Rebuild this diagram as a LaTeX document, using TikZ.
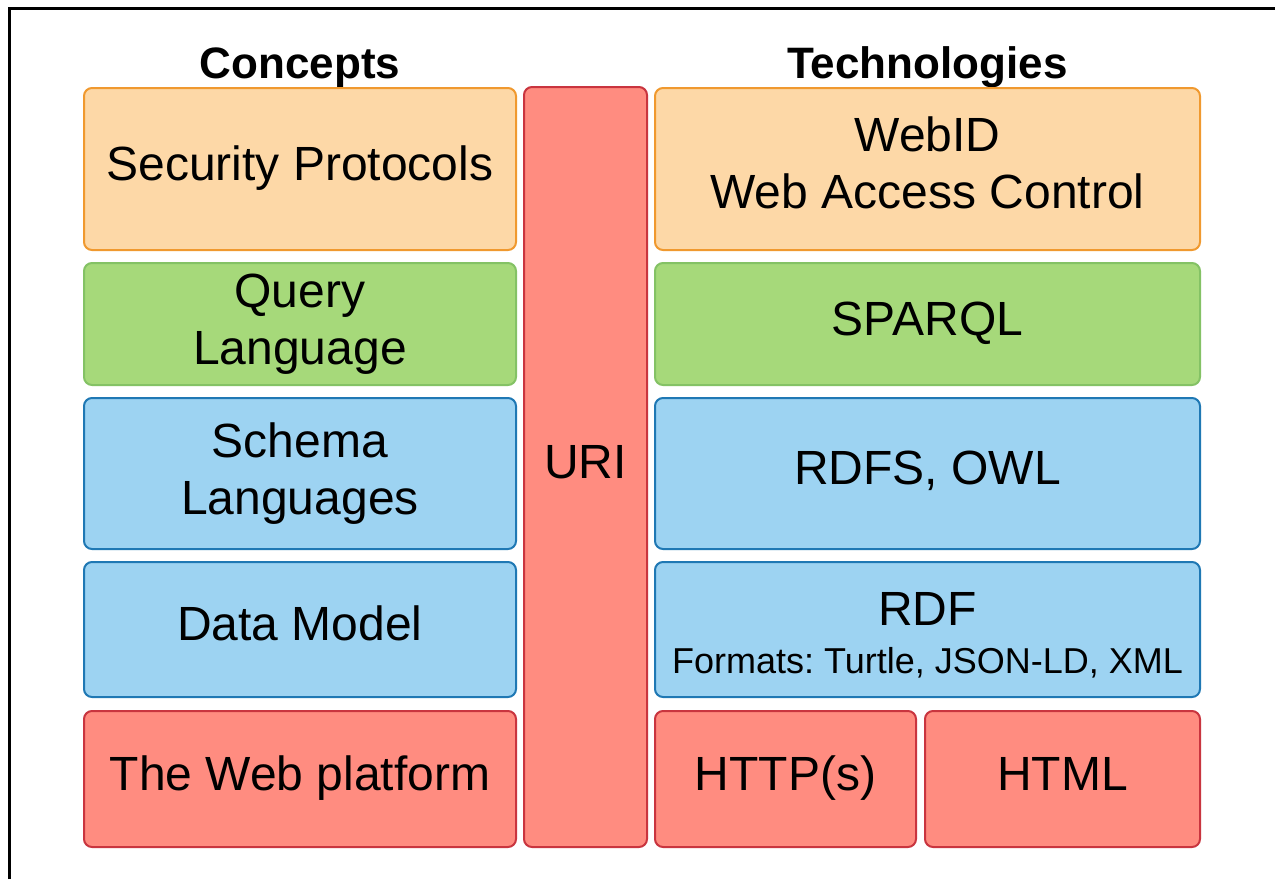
\documentclass[tikz,border=0pt]{standalone}
\usepackage{fontspec}
\setmainfont{Liberation Sans}
\frenchspacing
\definecolor{orF}{HTML}{FDD8A7}
\definecolor{orD}{HTML}{F0992F}
\definecolor{grF}{HTML}{A6D97A}
\definecolor{grD}{HTML}{84C265}
\definecolor{blF}{HTML}{9DD3F2}
\definecolor{blD}{HTML}{1F78B4}
\definecolor{rdF}{HTML}{FF8C80}
\definecolor{rdD}{HTML}{C9353F}
\tikzset{
  blk/.style={draw, rounded corners=8pt, line width=2pt, align=center,
    inner sep=0pt, outer sep=0pt, font=\fontsize{48}{57}\selectfont},
  one/.style={text height=38pt, text depth=16pt},
  orblk/.style={blk, fill=orF, draw=orD},
  grblk/.style={blk, fill=grF, draw=grD},
  blblk/.style={blk, fill=blF, draw=blD},
  rdblk/.style={blk, fill=rdF, draw=rdD},
  lcol/.style={minimum width=432pt},
  rcol/.style={minimum width=545pt},
  heading/.style={anchor=base, inner sep=0pt, font=\fontsize{44}{52}\selectfont\bfseries},
  plain/.style={anchor=base, inner sep=0pt},
}
\begin{document}
\begin{tikzpicture}[x=1pt,y=-1pt]
\useasboundingbox (0,0) rectangle (1275,879);
\fill[white] (0,0) rectangle (1275,879);
\draw[line width=3pt] (9,879) -- (9,8.5) -- (1275,8.5);

\node[heading] (hc) at (300,78) {Concepts};
\node[heading] (ht) at (927.5,78) {Technologies};

% left column
\node[orblk, lcol, one, minimum height=162pt] (sec) at (300,169) {Security Protocols};
\node[grblk, lcol, minimum height=122pt] (query) at (300,324) {Query\\Language};
\node[blblk, lcol, minimum height=151pt] (schema) at (300,473.5) {Schema\\Languages};
\node[blblk, lcol, one, minimum height=135pt] (dm) at (300,629.5) {Data Model};
\node[rdblk, lcol, one, minimum height=136pt] (web) at (300,779) {The Web platform};

% URI
\node[rdblk, one, minimum width=123pt, minimum height=760pt] (uri) at (585.5,467) {URI};

% right column
\node[orblk, rcol, minimum height=162pt] (webid) at (927.5,169) {};
\node[plain, font=\fontsize{48}{57}\selectfont] (webidt) at (927.5,151) {WebID};
\node[plain, font=\fontsize{48}{57}\selectfont] (wact) at (927.5,208) {Web Access Control};
\node[grblk, rcol, one, minimum height=122pt] (sparql) at (927.5,324) {SPARQL};
\node[blblk, rcol, one, minimum height=151pt] (rdfs) at (927.5,473.5) {RDFS, OWL};
\node[blblk, rcol, minimum height=135pt] (rdf) at (927.5,629.5) {};
\node[plain, font=\fontsize{48}{57}\selectfont] (rdft) at (927.5,625) {RDF};
\node[plain, font=\fontsize{36}{42}\selectfont] (rdff) at (927.5,673) {Formats: Turtle, JSON-LD, XML};
\node[rdblk, one, minimum width=261pt, minimum height=136pt] (http) at (785.5,779) {HTTP(s)};
\node[rdblk, one, minimum width=275pt, minimum height=136pt] (html) at (1062.5,779) {HTML};
\end{tikzpicture}
\end{document}
